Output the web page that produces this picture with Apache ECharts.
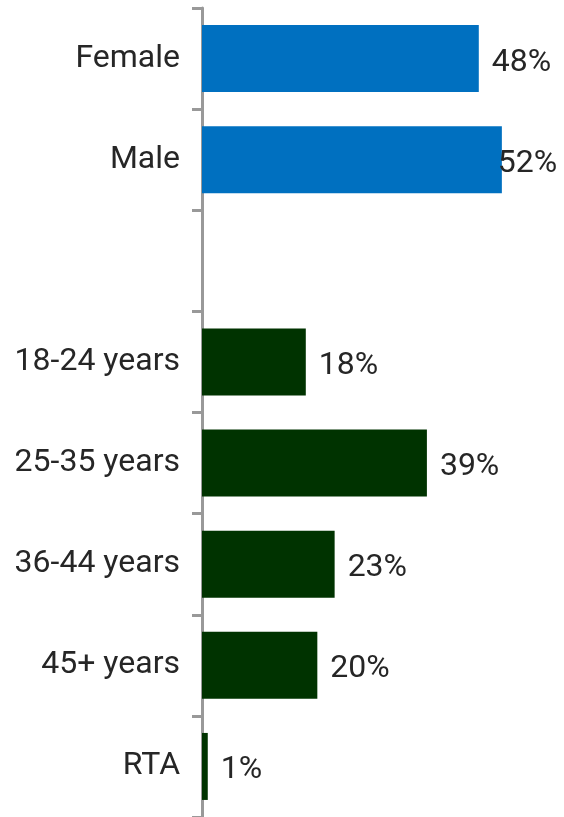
<!DOCTYPE html>
<html>
<head>
<meta charset="utf-8">
<script src="https://cdn.jsdelivr.net/npm/echarts@6/dist/echarts.min.js"></script>
<style>
  html, body { margin: 0; padding: 0; background: #fff; }
  #chart { width: 564px; height: 817px; }
</style>
</head>
<body>
<div id="chart"></div>
<script>
const categories = ['Female', 'Male', '', '18-24 years', '25-35 years', '36-44 years', '45+ years', 'RTA']
const values = [48, 52, null, 18, 39, 23, 20, 1]
const groups = ['gender', 'gender', null, 'age', 'age', 'age', 'age', 'age']

const colors = { gender: '#0070C0', age: '#003300' }

const chart = echarts.init(document.getElementById('chart'))

const seriesData = values.map((v, i) => {
  const item = {
    value: v,
    itemStyle: { color: colors[groups[i]] || '#fff' }
  }
  // Male label sits over the bar end in the original
  if (categories[i] === 'Male') {
    item.label = { offset: [-17, 4] }
  }
  return item
})

const option = {
  animation: false,
  grid: {
    left: 202,
    width: 346,
    top: 8,
    bottom: 0
  },
  xAxis: {
    type: 'value',
    min: 0,
    max: 60,
    show: false
  },
  yAxis: {
    type: 'category',
    inverse: true,
    data: categories,
    axisLine: {
      show: true,
      lineStyle: { color: '#999', width: 3 }
    },
    axisTick: {
      show: true,
      length: 10,
      lineStyle: { color: '#999', width: 3 }
    },
    axisLabel: {
      margin: 22,
      padding: [8, 0, 0, 0],
      fontFamily: 'Roboto',
      fontSize: 32,
      color: '#262626'
    }
  },
  series: [
    {
      type: 'bar',
      data: seriesData,
      barWidth: 67,
      label: {
        show: true,
        position: 'right',
        distance: 13,
        offset: [0, 4],
        fontFamily: 'Roboto',
        fontSize: 32,
        color: '#262626',
        formatter: p => (p.value == null ? '' : p.value + '%')
      }
    }
  ]
}

chart.setOption(option)
</script>
</body>
</html>
